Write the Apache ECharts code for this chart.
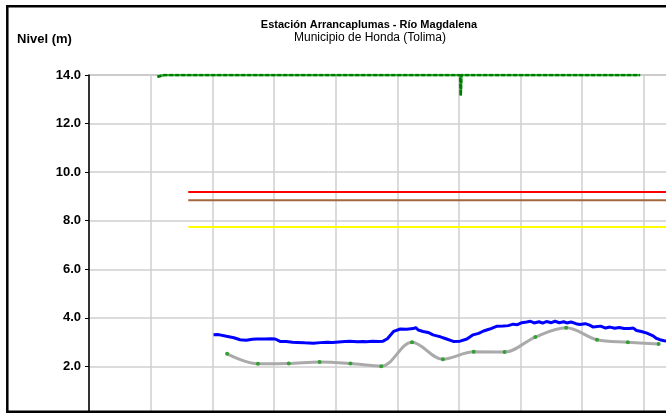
<!DOCTYPE html>
<html>
<head>
<meta charset="utf-8">
<script src="https://cdn.jsdelivr.net/npm/echarts@6/dist/echarts.min.js"></script>
<style>html,body{margin:0;padding:0;background:#fff;}#c{width:666px;height:413px;}</style>
</head>
<body>
<div id="c"></div>
<script>
// ---- data (x in days from axis origin, y = nivel in m) ----
const yTicks = [0, 2, 4, 6, 8, 10, 12, 14];
const greenLevel = [[11.1,13.93],[12.2,14.0],[30,14.0],[45,14.0],[60.2,14.0],[60.3,13.15],[60.4,14.0],[75,14.0],[89.4,14.0]];
const thresholdStart = 16.1;
const thresholdEnd = 100;
const redLevel = 9.18;
const brownLevel = 8.84;
const yellowLevel = 7.74;
const greyX = [22.4,27.4,32.4,37.4,42.4,47.4,52.4,57.4,62.4,67.4,72.4,77.4,82.4,87.4,92.4];
const greyY = [2.52,2.11,2.12,2.18,2.12,2.01,3.00,2.30,2.60,2.59,3.21,3.59,3.10,3.00,2.92];
const blueLevel = [
[20.2,3.30],[21.0,3.31],[22.3,3.24],[23.5,3.18],[24.5,3.10],[25.5,3.08],[26.5,3.12],[27.2,3.13],
[28.5,3.13],[29.5,3.14],[30.2,3.13],[31.0,3.03],[32.0,3.03],[33.0,3.00],[33.7,2.99],[35.0,2.97],
[36.4,2.95],[37.5,2.98],[38.6,3.00],[39.5,2.99],[40.5,3.01],[41.5,3.03],[42.3,3.04],[43.5,3.02],
[44.5,3.03],[45.0,3.02],[46.0,3.04],[47.0,3.03],[47.7,3.04],[48.4,3.14],[49.4,3.44],[50.5,3.54],
[51.5,3.53],[52.6,3.56],[53.0,3.60],[53.4,3.50],[54.2,3.44],[55.0,3.40],[55.8,3.30],[56.4,3.26],
[57.0,3.22],[58.0,3.13],[59.1,3.03],[60.2,3.04],[61.3,3.13],[62.3,3.30],[63.2,3.36],[64.0,3.46],
[65.0,3.54],[66.1,3.65],[67.2,3.66],[68.0,3.68],[68.8,3.74],[69.5,3.72],[70.2,3.80],[71.0,3.83],
[71.6,3.86],[72.2,3.79],[73.0,3.84],[73.6,3.78],[74.2,3.85],[75.0,3.80],[75.6,3.86],[76.3,3.80],
[77.0,3.84],[77.5,3.79],[78.2,3.83],[79.0,3.76],[79.6,3.73],[80.5,3.76],[81.2,3.70],[81.8,3.62],
[83.0,3.66],[83.8,3.58],[84.5,3.62],[85.3,3.57],[86.0,3.60],[86.8,3.56],[87.7,3.56],[88.3,3.58],
[88.8,3.48],[89.6,3.44],[90.5,3.37],[91.5,3.26],[92.0,3.16],[92.6,3.10],[93.3,3.06],[94.0,3.03],
[95.0,2.98]
];
const titleText = 'Estación Arrancaplumas - Río Magdalena';
const subText = 'Municipio de Honda (Tolima)';
const yName = 'Nivel (m)';

const greyData = greyX.map((x, i) => [x, greyY[i]]);
const chart = echarts.init(document.getElementById('c'), null, {renderer: 'canvas'});
const font = 'Arial, "Liberation Sans", Helvetica, sans-serif';
chart.setOption({
  animation: false,
  backgroundColor: '#fff',
  title: [
    {text: titleText, left: 364, top: 14, textAlign: 'center',
     textStyle: {fontFamily: font, fontSize: 11, fontWeight: 'bold', color: '#000'}},
    {text: subText, left: 365, top: 27, textAlign: 'center',
     textStyle: {fontFamily: font, fontSize: 12, fontWeight: 'normal', color: '#000'}}
  ],
  graphic: [
    {type: 'rect', shape: {x: 7.3, y: 6.2, width: 720, height: 405.5}, style: {fill: 'none', stroke: '#000', lineWidth: 2.5}, z: 100},
    {type: 'text', x: 17, y: 33, style: {text: yName, fontFamily: font, fontSize: 13, fontWeight: 'bold', fill: '#000'}}
  ],
  grid: {left: 89, top: 75, width: 616.5, height: 340, outerBoundsMode: 'none', containLabel: false,
         show: true, borderColor: '#888', borderWidth: 1, backgroundColor: 'transparent'},
  xAxis: {
    type: 'value', min: 0, max: 100, interval: 10,
    axisLine: {show: true, lineStyle: {color: '#000', width: 1.5}},
    axisTick: {show: false}, axisLabel: {show: false},
    splitLine: {show: true, lineStyle: {color: '#cfcfcf', width: 1.5}}
  },
  yAxis: {
    type: 'value', min: yTicks[0], max: yTicks[yTicks.length - 1], interval: 2,
    axisLine: {show: true, lineStyle: {color: '#000', width: 1.5}},
    axisTick: {show: true, inside: false, length: 4, lineStyle: {color: '#000'}},
    axisLabel: {fontFamily: font, fontSize: 13, fontWeight: 'bold', color: '#000', margin: 8,
      formatter: v => v === 0 ? '' : v.toFixed(1)},
    splitLine: {show: true, lineStyle: {color: '#cfcfcf', width: 1.5}}
  },
  series: [
    {type: 'line', data: [[thresholdStart, redLevel], [thresholdEnd, redLevel]], symbol: 'none', lineStyle: {color: '#ff0000', width: 2}},
    {type: 'line', data: [[thresholdStart, brownLevel], [thresholdEnd, brownLevel]], symbol: 'none', lineStyle: {color: '#a5673f', width: 2}},
    {type: 'line', data: [[thresholdStart, yellowLevel], [thresholdEnd, yellowLevel]], symbol: 'none', lineStyle: {color: '#ffff00', width: 2}},
    {type: 'line', data: greenLevel, symbol: 'none', lineStyle: {color: '#30b030', width: 2.5}},
    {type: 'line', data: greenLevel, symbol: 'none', lineStyle: {color: '#007a00', width: 2.5, type: [4, 2]}},
    {type: 'line', data: greyData, smooth: 0.35, symbol: 'circle', symbolSize: 4,
     lineStyle: {color: '#aaaaaa', width: 3}, itemStyle: {color: '#33a033', borderWidth: 0}},
    {type: 'line', data: blueLevel, symbol: 'none', lineStyle: {color: '#0000ff', width: 3}}
  ]
});
</script>
</body>
</html>
